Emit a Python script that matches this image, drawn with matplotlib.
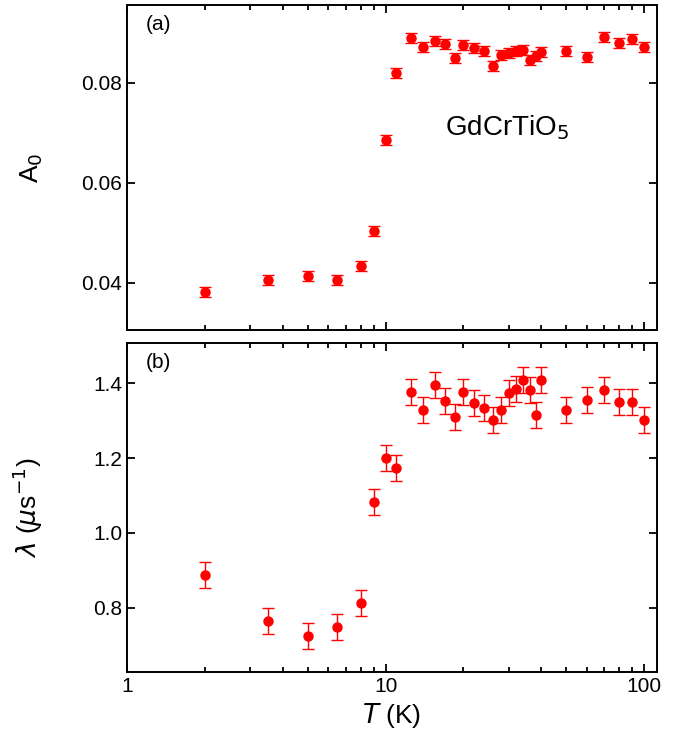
import matplotlib
matplotlib.use("Agg")
import matplotlib.pyplot as plt
import numpy as np

T = [2,3.5,5,6.5,8,9,10,11,12.5,14,15.5,17,18.5,20,22,24,26,28,30,32,34,36,38,40,50,60,70,80,90,100]
A0 = [0.0382,0.0406,0.0414,0.0406,0.0434,0.0504,0.0686,0.082,0.089,0.0872,0.0884,0.0878,0.085,0.0876,0.087,0.0864,0.0834,0.0856,0.086,0.0864,0.0866,0.0846,0.0854,0.0862,0.0864,0.0852,0.0892,0.088,0.0888,0.0872]
A0_err = [0.001]*len(T)
lam = [0.888,0.765,0.725,0.749,0.813,1.083,1.2,1.173,1.376,1.328,1.395,1.352,1.309,1.376,1.347,1.333,1.301,1.328,1.373,1.384,1.408,1.381,1.315,1.408,1.328,1.355,1.381,1.349,1.349,1.301]
lam_err = [0.035]*len(T)

plt.rcParams['font.family'] = ['Liberation Sans', 'DejaVu Sans']
fig = plt.figure(figsize=(6.84, 7.55), dpi=100)
ax1 = fig.add_axes([127/684, 1-330/755, 530/684, 325/755])
ax2 = fig.add_axes([127/684, 1-672/755, 530/684, 329/755], sharex=ax1)
red = '#ff0000'
for ax, y, e in [(ax1, A0, A0_err), (ax2, lam, lam_err)]:
    ax.errorbar(T, y, yerr=e, fmt='o', color=red, ms=6.5, capsize=4, elinewidth=1, capthick=1)
    ax.set_xscale('log')
    for s in ax.spines.values():
        s.set_linewidth(1.4)
    ax.tick_params(which='both', direction='in', top=True, right=True, labelsize=15, width=1.3)
    ax.tick_params(which='major', length=6)
    ax.tick_params(which='minor', length=3.5)
ax1.set_xlim(1, 112)
ax1.set_ylim(0.0306, 0.0956)
ax1.set_yticks([0.04, 0.06, 0.08])
ax1.set_yticklabels(['0.04','0.06','0.08'])
ax1.tick_params(labelbottom=False)
ax2.set_ylim(0.629, 1.507)
ax2.set_yticks([0.8,1.0,1.2,1.4])
ax2.set_yticklabels(['0.8','1.0','1.2','1.4'])
ax2.set_xticks([1,10,100])
ax2.set_xticklabels(['1','10','100'])
ax1.set_ylabel(r'A$_0$', fontsize=19)
ax2.set_ylabel(r'$\lambda$ ($\mu$s$^{-1}$)', fontsize=19)
ax2.set_xlabel(r'$T$ (K)', fontsize=19)
ax1.text(0.035, 0.97, '(a)', transform=ax1.transAxes, fontsize=15, va='top')
ax2.text(0.035, 0.97, '(b)', transform=ax2.transAxes, fontsize=15, va='top')
ax1.text(0.6, 0.6, r'GdCrTiO$_5$', transform=ax1.transAxes, fontsize=20)
ax1.yaxis.set_label_coords(-0.155, 0.5)
ax2.yaxis.set_label_coords(-0.155, 0.5)
fig.savefig('out.png', dpi=100)
